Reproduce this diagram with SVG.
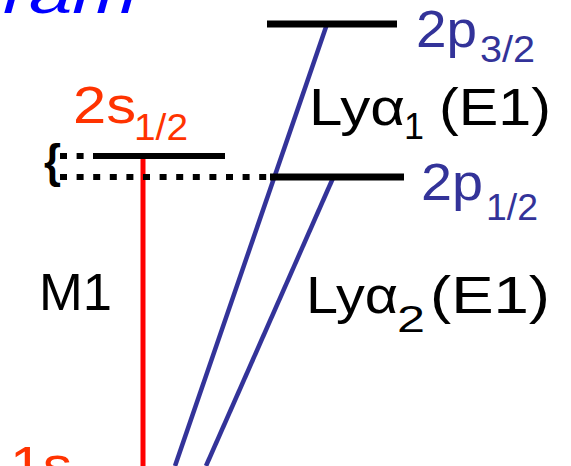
<svg xmlns="http://www.w3.org/2000/svg" width="571" height="466" viewBox="0 0 571 466">
<style>
text{font-family:"Liberation Sans",Arial,sans-serif}
.lvl{stroke:#000;stroke-width:7;fill:none}
.dot{stroke:#000;stroke-width:6;stroke-dasharray:7 9.6;fill:none}
.blue{stroke:#333399;stroke-width:4.5;fill:none}
.red{stroke:#FF0000;stroke-width:5;fill:none}
.big{font-size:52px}
.sub{font-size:37px}
.or{fill:#FF3300}
.bl{fill:#333399}
.bk{fill:#000}
</style>
<rect width="571" height="466" fill="#fff"/>
<text x="3" y="13" font-size="56" font-style="italic" fill="#0000FF" textLength="134" lengthAdjust="spacingAndGlyphs">ram</text>
<g id="connectors">
<line class="red" x1="143" y1="156" x2="143" y2="466"/>
<line class="blue" x1="327" y1="24" x2="175" y2="466"/>
<line class="blue" x1="333" y1="178" x2="206" y2="466"/>
</g>
<g id="level-2s">
<line class="lvl" x1="93" y1="156" x2="225" y2="156" style="stroke-width:6"/>
<line class="dot" x1="60" y1="156" x2="93" y2="156"/>
<text class="big or" x="73" y="123" textLength="63" lengthAdjust="spacingAndGlyphs">2s</text>
<text class="sub or" x="134" y="140" textLength="54" lengthAdjust="spacingAndGlyphs">1/2</text>
</g>
<g id="level-2p12">
<line class="dot" x1="60" y1="177" x2="270" y2="177"/>
<line class="lvl" x1="270" y1="177" x2="404" y2="177"/>
<text class="big bl" x="421" y="200" textLength="62" lengthAdjust="spacingAndGlyphs">2p</text>
<text class="sub bl" x="486" y="220" textLength="52" lengthAdjust="spacingAndGlyphs">1/2</text>
</g>
<g id="level-2p32">
<line class="lvl" x1="267" y1="24" x2="397" y2="24"/>
<text class="big bl" x="416" y="47" textLength="61" lengthAdjust="spacingAndGlyphs">2p</text>
<text class="sub bl" x="480" y="62" textLength="55" lengthAdjust="spacingAndGlyphs">3/2</text>
</g>
<g id="brace">
<text class="bk" x="44" y="177" font-size="46" font-weight="bold" textLength="17" lengthAdjust="spacingAndGlyphs">{</text>
</g>
<g id="label-M1">
<text class="big bk" x="39" y="310" textLength="73" lengthAdjust="spacingAndGlyphs">M1</text>
</g>
<g id="label-lya1">
<text class="big bk" x="309" y="125" textLength="96" lengthAdjust="spacingAndGlyphs">Lyα</text>
<text class="sub bk" x="404" y="139" textLength="20" lengthAdjust="spacingAndGlyphs">1</text>
<text class="big bk" x="439" y="125" textLength="112" lengthAdjust="spacingAndGlyphs">(E1)</text>
</g>
<g id="label-lya2">
<text class="big bk" x="306" y="313" textLength="92" lengthAdjust="spacingAndGlyphs">Lyα</text>
<text class="sub bk" x="397" y="332" textLength="28" lengthAdjust="spacingAndGlyphs">2</text>
<text class="big bk" x="430" y="313" textLength="120" lengthAdjust="spacingAndGlyphs">(E1)</text>
</g>
<g id="level-1s">
<text class="big or" x="10" y="483" textLength="62" lengthAdjust="spacingAndGlyphs">1s</text>
</g>
</svg>
